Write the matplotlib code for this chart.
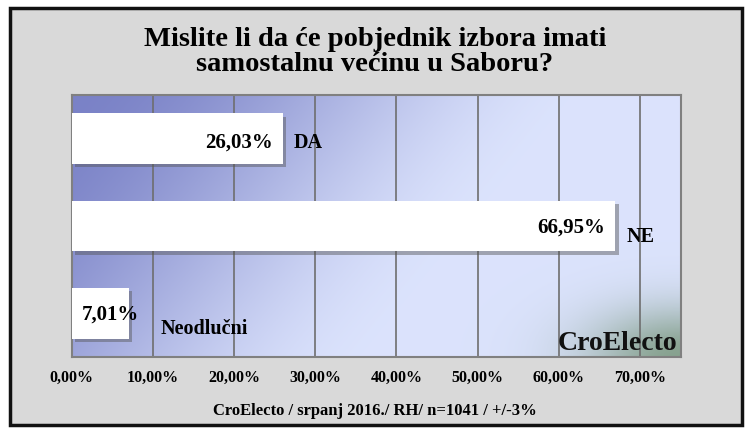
import numpy as np
import matplotlib
matplotlib.use("Agg")
import matplotlib.pyplot as plt
import matplotlib.patheffects as pe
from matplotlib.patches import Rectangle

plt.rcParams['font.family'] = ['Liberation Serif', 'DejaVu Serif']

# --- DATA ---
categories = ["DA", "NE", "Neodlučni"]
values = [26.03, 66.95, 7.01]
value_labels = ["26,03%", "66,95%", "7,01%"]
xticks = [0, 10, 20, 30, 40, 50, 60, 70]
xtick_labels = ["0,00%", "10,00%", "20,00%", "30,00%", "40,00%", "50,00%", "60,00%", "70,00%"]
title = "Mislite li da će pobjednik izbora imati\nsamostalnu većinu u Saboru?"
footer = "CroElecto / srpanj 2016./ RH/ n=1041 / +/-3%"

fig = plt.figure(figsize=(7.5, 4.4), dpi=100)
fig.patch.set_facecolor("white")

# outer frame
frame = Rectangle((10 / 750, 1 - 425 / 440), 732 / 750, 417 / 440,
                  transform=fig.transFigure, facecolor="#d9d9d9",
                  edgecolor="#111111", linewidth=2.5, zorder=-5)
fig.patches.append(frame)

ax = fig.add_axes([71.6 / 750, 1 - 357 / 440, 609 / 750, 262 / 440])
ax.set_zorder(2)
ax.set_xlim(0, 75)
ax.set_ylim(len(categories) - 0.5, -0.5)

# gradient background
h, w = 200, 400
yy, xx = np.mgrid[0:1:h * 1j, 0:1:w * 1j]
t = np.clip((xx + 0.35 * yy) / 0.85, 0, 1)
t = t * t * (3 - 2 * t)
dark = np.array([0.48, 0.51, 0.78])
light = np.array([0.86, 0.89, 0.99])
img = dark[None, None, :] + (light - dark)[None, None, :] * t[..., None]
d = np.sqrt(((1 - xx) / 0.9) ** 2 + ((1 - yy) / 1.1) ** 2)
g = np.exp(-(d / 0.17) ** 2) * 0.75
green = np.array([0.42, 0.55, 0.42])
img = img * (1 - g[..., None]) + green[None, None, :] * g[..., None]
ax.imshow(img, extent=[0, 75, len(categories) - 0.5, -0.5], aspect="auto", zorder=0)

for x in xticks[1:]:
    ax.axvline(x, color="#6e6e6e", linewidth=1.2, zorder=1)

bars = ax.barh(range(len(categories)), values, height=0.58, color="white",
               edgecolor="none", zorder=3)
for b in bars:
    b.set_path_effects([pe.SimplePatchShadow(offset=(2.5, -2.5), shadow_rgbFace="#555555", alpha=0.45),
                        pe.Normal()])

label_dy = [0.05, 0.13, 0.18]
value_dy = [0.05, 0.02, 0.02]
for i, (v, vl, cat) in enumerate(zip(values, value_labels, categories)):
    if v > 15:
        ax.annotate(vl, (v, i + value_dy[i]), xytext=(-7, 0), textcoords="offset points",
                    ha="right", va="center", fontsize=15, fontweight="bold", zorder=5)
        ax.annotate(cat, (v, i + label_dy[i]), xytext=(8, 0), textcoords="offset points",
                    ha="left", va="center", fontsize=14.5, fontweight="bold", zorder=5)
    else:
        ax.annotate(vl, (0, i + value_dy[i]), xytext=(7, 0), textcoords="offset points",
                    ha="left", va="center", fontsize=15, fontweight="bold", zorder=5)
        ax.annotate(cat, (v, i + label_dy[i]), xytext=(23, 0), textcoords="offset points",
                    ha="left", va="center", fontsize=14.5, fontweight="bold", zorder=5)

ax.text(0.995, 0.005, "CroElecto", transform=ax.transAxes, ha="right", va="bottom",
        fontsize=20, fontweight="bold", color="#111111", zorder=6)

ax.set_xticks(xticks)
ax.set_xticklabels(xtick_labels, fontsize=11.5, fontweight="bold")
ax.tick_params(axis="x", length=0, pad=9)
ax.set_yticks([])
for s in ax.spines.values():
    s.set_color("#808080")
    s.set_linewidth(1.5)

fig.text(0.5, 1 - 52 / 440, title, ha="center", va="center", fontsize=20.5,
         fontweight="bold", linespacing=0.95)
fig.text(0.5, 1 - 411 / 440, footer, ha="center", va="center", fontsize=12,
         fontweight="bold")

fig.savefig("out.png", dpi=100)
